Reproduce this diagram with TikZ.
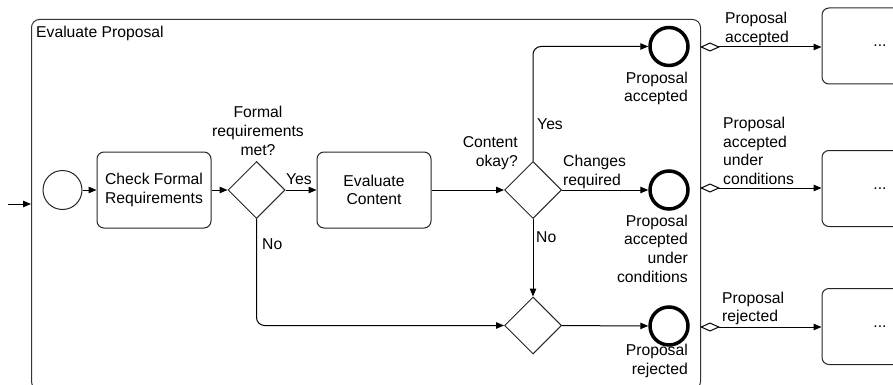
\documentclass[tikz,border=0pt]{standalone}
\usepackage{fontspec}
\setmainfont{Liberation Sans}
\usetikzlibrary{arrows.meta,shapes.geometric}
\begin{document}
\begin{tikzpicture}[x=1pt,y=-1pt,
  every node/.style={font=\fontsize{15.7}{18.7}\selectfont, inner sep=0pt},
  task/.style={draw=black!85, line width=1pt, rounded corners=7pt,
    minimum width=114pt, minimum height=76pt, align=center},
  gate/.style={draw=black!85, line width=1pt, diamond,
    minimum width=57pt, minimum height=57pt},
  startev/.style={draw=black!85, line width=1pt, circle, minimum size=39pt},
  endev/.style={draw=black, line width=3.5pt, circle, minimum size=38pt},
  flow/.style={draw, line width=1pt, -{Triangle[length=8pt,width=6.5pt]},
    rounded corners=8pt},
  msg/.style={draw, line width=1pt,
    {Diamond[open,length=20pt,width=9pt]}-{Triangle[length=8pt,width=6.5pt]}},
  lbl/.style={align=left}
]
\useasboundingbox (0,0) rectangle (893,385);
\clip (0,0) rectangle (893,385);

% sub-process frame
\node[draw=black!80, line width=1pt, rounded corners=8pt,
  minimum width=669pt, minimum height=370pt, anchor=north west]
  (sub) at (31,19) {};
\node[anchor=west] (subtitle) at (36,33) {Evaluate Proposal};

% flow objects inside the sub-process
\node[startev] (start) at (62.5,190) {};
\node[task] (check) at (154,190) {Check Formal\\Requirements};
\node[gate] (g1) at (256.5,190) {};
\node[task] (evalc) at (374,190) {Evaluate\\Content};
\node[gate] (g2) at (533,190) {};
\node[gate] (g3) at (533,325.5) {};
\node[endev] (e1) at (669,46.5) {};
\node[endev] (e2) at (669,190) {};
\node[endev] (e3) at (669,326) {};

% downstream activities
\node[task, minimum width=116pt] (b1) at (880,46) {...};
\node[task, minimum width=116pt] (b2) at (880,188.5) {...};
\node[task, minimum width=116pt] (b3) at (880,326.5) {...};

% labels
\node[align=center] (lg1) at (258,131) {Formal\\requirements\\met?};
\node[anchor=west] (lyes1) at (286,179) {Yes};
\node[anchor=west] (lno1) at (262,244) {No};
\node[align=right, anchor=east] (lg2) at (518,153) {Content\\okay?};
\node[anchor=west] (lyes2) at (537,124) {Yes};
\node[lbl, anchor=west] (lchg) at (563,172) {Changes\\required};
\node[anchor=west] (lno2) at (536,237) {No};
\node[align=right, anchor=east] (le1) at (688,88.5) {Proposal\\accepted};
\node[align=right, anchor=east] (le2) at (688,248.5) {Proposal\\accepted\\under\\conditions};
\node[align=right, anchor=east] (le3) at (688,361) {Proposal\\rejected};
\node[lbl, anchor=west] (lm1) at (725,29) {Proposal\\accepted};
\node[lbl, anchor=west] (lm2) at (723,151) {Proposal\\accepted\\under\\conditions};
\node[lbl, anchor=west] (lm3) at (722,308.5) {Proposal\\rejected};

% sequence flows
\coordinate (in) at (8,204);
\draw[flow] (in) -- (in -| sub.west);
\draw[flow] (start) -- (check);
\draw[flow] (check) -- (g1);
\draw[flow] (g1) -- (evalc);
\draw[flow] (g1.south) |- (g3.west);
\draw[flow] (evalc) -- (g2);
\draw[flow] (g2.north) |- (e1.west);
\draw[flow] (g2) -- (e2);
\draw[flow] (g2.south) -- (g3.north);
\draw[flow] (g3) -- (e3);

% conditional flows leaving the sub-process
\coordinate (m1) at (700,47);
\coordinate (m2) at (700,188);
\coordinate (m3) at (700,327);
\draw[msg] (m1) -- (m1 -| b1.west);
\draw[msg] (m2) -- (m2 -| b2.west);
\draw[msg] (m3) -- (m3 -| b3.west);
\end{tikzpicture}
\end{document}
